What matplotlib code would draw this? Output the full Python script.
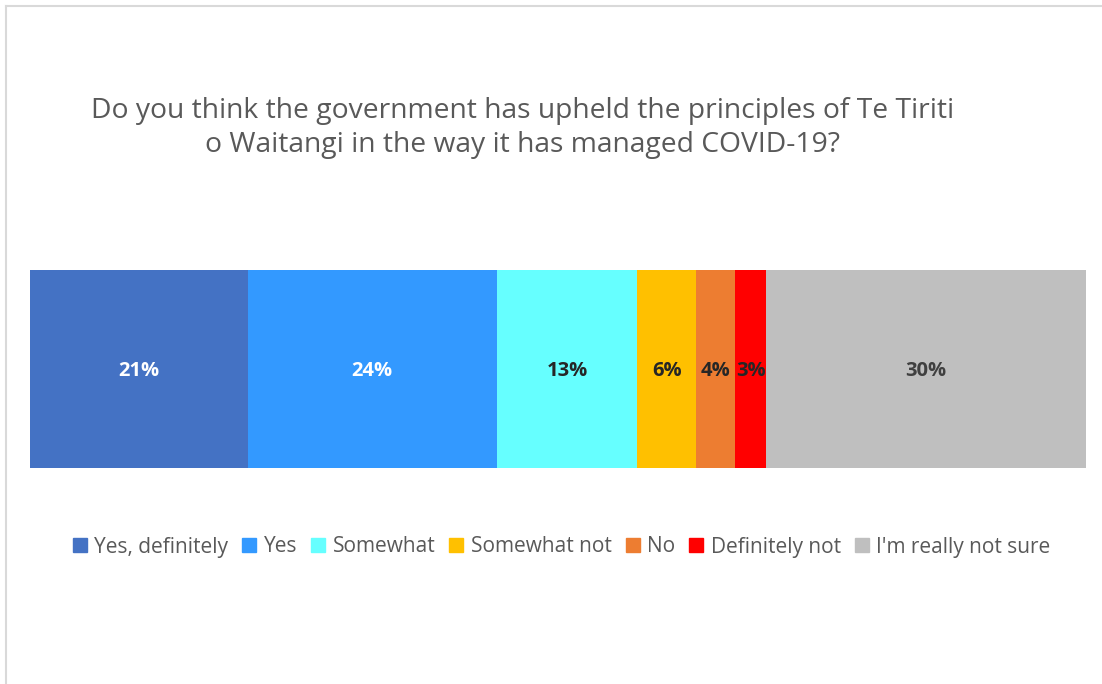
import matplotlib.pyplot as plt
from matplotlib.lines import Line2D

categories = ["Yes, definitely", "Yes", "Somewhat", "Somewhat not", "No",
              "Definitely not", "I'm really not sure"]
values = [20.6, 23.6, 13.3, 5.6, 3.7, 2.9, 30.3]
labels = ["21%", "24%", "13%", "6%", "4%", "3%", "30%"]
colors = ["#4472C4", "#3399FF", "#66FFFF", "#FFC000", "#ED7D31", "#FF0000", "#BFBFBF"]
text_colors = ["white", "white", "#262626", "#262626", "#262626", "#262626", "#404040"]

plt.rcParams['font.family'] = ['Open Sans', 'DejaVu Sans']

W, H = 1102, 684
fig = plt.figure(figsize=(W / 100, H / 100), dpi=100)
ax = fig.add_axes([30 / W, 1 - 468 / H, (1086 - 30) / W, (468 - 270) / H])

left = 0
for cat, v, lab, c, tc in zip(categories, values, labels, colors, text_colors):
    ax.barh(0, v, left=left, height=1, color=c, label=cat)
    ax.text(left + v / 2, -0.01, lab, ha="center", va="center", fontsize=14.5,
            fontweight="bold", color=tc)
    left += v

ax.set_xlim(0, sum(values))
ax.set_ylim(-0.5, 0.5)
ax.axis("off")

fig.text(0.474, 1 - 128 / H,
         "Do you think the government has upheld the principles of Te Tiriti\n"
         "o Waitangi in the way it has managed COVID-19?",
         ha="center", va="center", fontsize=20.3, color="#595959", linespacing=1.25)

handles = [Line2D([], [], marker="s", linestyle="", markersize=9.5, color=c) for c in colors]
fig.legend(handles, categories, loc="center", bbox_to_anchor=(0.509, 1 - 547 / H),
           ncol=7, frameon=False, fontsize=15, labelcolor="#595959",
           handletextpad=0.3, columnspacing=0.6, handlelength=0.8)

# chart border (top and left only visible)
fig.add_artist(Line2D([6 / W, 1], [1 - 6 / H, 1 - 6 / H], color="#D9D9D9", lw=1.5))
fig.add_artist(Line2D([6 / W, 6 / W], [0, 1 - 6 / H], color="#D9D9D9", lw=1.5))

fig.savefig("out.png", dpi=100, facecolor="white")
